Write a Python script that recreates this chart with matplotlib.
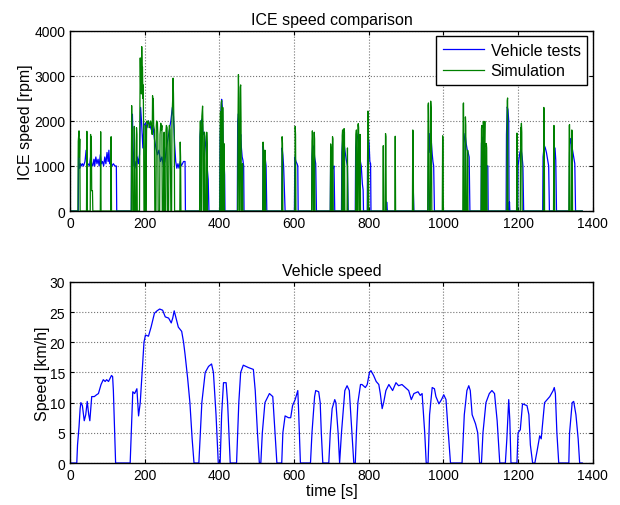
import numpy as np
import matplotlib
matplotlib.use("Agg")
import matplotlib.pyplot as plt

plt.rcParams['font.family'] = ['Liberation Sans', 'DejaVu Sans']

# ICE speed measured on the vehicle [s], [rpm]
t_test = [0, 22, 23, 24, 26, 28, 30, 33, 36, 40, 43, 45, 48, 52, 55, 58, 61, 64, 66, 69,
          72, 75, 78, 81, 84, 87, 90, 93, 96, 99, 102, 104, 106, 109, 112, 116, 120, 124, 125,
          164, 165, 167, 169, 171, 174, 177, 180, 183, 186, 189, 192, 195, 198, 202, 206, 210,
          214, 218, 222, 226, 230, 234, 238, 242, 246, 250, 254, 258, 262, 266, 270, 274, 277,
          280, 283, 286, 289, 292, 295, 298, 301, 304, 308, 309,
          347, 348, 351, 354, 356, 359, 362, 365, 367, 370, 372,
          401, 402, 404, 406, 408, 410, 412, 414, 415,
          448, 449, 451, 453, 455, 457, 459, 461, 463, 465, 466,
          516, 517, 519, 521, 523, 525, 527,
          567, 568, 570, 572, 574, 576,
          601, 602, 605, 608, 610, 611,
          647, 648, 650, 653, 655, 658, 660,
          697, 698, 701, 704, 707, 709,
          727, 728, 731, 734, 737, 740, 743, 745,
          764, 765, 768, 771, 774, 777, 780, 783, 785, 786,
          796, 797, 799, 801, 803, 805, 806,
          847, 848, 850, 918, 919, 921,
          959, 960, 962, 964, 966, 968, 970, 972, 974, 976,
          1054, 1055, 1058, 1061, 1064, 1066, 1069, 1071,
          1101, 1102, 1104, 1107, 1110, 1113, 1116, 1119, 1120,
          1168, 1169, 1171, 1173, 1175, 1176, 1177, 1178,
          1199, 1200, 1202, 1205, 1208, 1211, 1213, 1215,
          1266, 1267, 1270, 1273, 1276, 1279, 1282, 1284,
          1296, 1297, 1299, 1301, 1303,
          1337, 1338, 1340, 1343, 1346, 1349, 1352, 1354, 1372]
n_test = [0, 0, 1500, 1000, 950, 1050, 1000, 1050, 1000, 1100, 1350, 1000, 1050, 1000, 1200, 1050, 1000, 1150, 1000, 1200,
          1050, 1150, 1000, 1250, 1050, 1100, 1000, 1200, 1050, 1300, 1100, 1350, 1050, 1100, 1000, 1050, 1000, 1000, 0,
          0, 1800, 2150, 1400, 1000, 1100, 950, 1200, 1050, 1250, 2300, 1900, 1400, 1900, 1950, 1850, 2000,
          1900, 1800, 1900, 1600, 1400, 1250, 1350, 1100, 1200, 1000, 1100, 1400, 1600, 1800, 2000, 2300, 2100,
          1500, 1100, 950, 1050, 950, 1100, 1000, 1050, 1100, 1100, 0,
          0, 1650, 2000, 2050, 1700, 1750, 1550, 1300, 1000, 700, 0,
          0, 1600, 2200, 2480, 2300, 1500, 1200, 800, 0,
          0, 2000, 2160, 1900, 1500, 1700, 1400, 1200, 1130, 1000, 0,
          0, 1450, 1300, 1270, 1150, 1000, 0,
          0, 1400, 1240, 1000, 500, 0,
          0, 1200, 1100, 1050, 1000, 0,
          0, 1200, 1460, 1400, 1200, 1050, 0,
          0, 1150, 1000, 940, 1000, 0,
          0, 1300, 1700, 1500, 1300, 1130, 1000, 0,
          0, 1400, 1720, 1600, 1350, 1130, 1000, 600, 470, 0,
          0, 1300, 1630, 1500, 1100, 1050, 0,
          0, 200, 0, 0, 600, 0,
          0, 1300, 1720, 1300, 1700, 1500, 1270, 1100, 1000, 0,
          0, 1500, 1720, 1500, 1350, 1310, 1200, 0,
          0, 1500, 1640, 1400, 1200, 1050, 1000, 1000, 0,
          0, 1700, 2310, 2250, 2000, 0, 200, 0,
          0, 1000, 1130, 1300, 1380, 1200, 1000, 0,
          0, 1200, 1460, 1400, 1300, 1150, 1000, 0,
          0, 1100, 1400, 1130, 0,
          0, 1300, 1610, 1500, 1350, 1200, 1050, 0, 0]

# ICE speed from the model [s], [rpm]
t_sim = [0, 21, 22, 24, 25, 26, 27, 44, 45, 46, 54, 55, 56, 57, 58, 60, 61, 81, 82, 83, 109, 110, 111,
         164, 165, 166, 167, 168, 171, 172, 173, 174, 177, 178, 179, 180, 186, 187, 188, 189, 190,
         191, 192, 193, 194, 195, 196, 197, 198, 200, 201, 202, 203, 205, 206, 208, 210, 212, 214,
         216, 218, 220, 221, 222, 223, 224, 226, 227, 230, 231, 232, 234, 235, 236, 240, 241, 243,
         245, 246, 247, 250, 251, 252, 253, 256, 257, 258, 260, 261, 264, 265, 266, 268, 270, 272,
         273, 275, 276, 277, 278, 279, 280, 294, 295, 296, 297,
         347, 348, 349, 350, 351, 352, 353, 355, 356, 357, 359, 360, 361, 362, 365, 366, 367, 368,
         401, 402, 403, 404, 405, 406, 407, 408, 409, 410, 411, 412, 413,
         449, 450, 451, 452, 453, 455, 456, 457, 458, 459, 461, 462, 463,
         516, 517, 518, 519, 521, 522, 523, 524,
         567, 568, 569, 570, 602, 603, 604, 605,
         647, 648, 649, 650, 651, 653, 654, 655, 656,
         697, 698, 699, 700, 702, 703, 704, 705,
         728, 729, 730, 731, 733, 734, 735, 736, 742, 743, 744,
         765, 766, 767, 768, 770, 771, 772, 773, 774, 776, 777, 778,
         797, 798, 799, 800,
         838, 839, 840, 844, 845, 846, 847, 870, 871, 872,
         917, 918, 919, 920,
         958, 959, 960, 961, 962, 965, 966, 967, 968, 969,
         997, 998, 999, 1000,
         1052, 1053, 1054, 1055, 1058, 1059, 1060, 1061, 1064, 1065, 1066,
         1101, 1102, 1103, 1104, 1106, 1107, 1108, 1109, 1110, 1111, 1112, 1114, 1115, 1116, 1117,
         1170, 1171, 1172, 1173,
         1196, 1197, 1198, 1199, 1206, 1207, 1208, 1209, 1210, 1211,
         1268, 1269, 1270, 1271, 1295, 1296, 1297, 1298,
         1336, 1337, 1338, 1339, 1343, 1344, 1345, 1346, 1372]
n_sim = [0, 0, 1550, 1780, 1200, 1600, 0, 0, 1770, 0, 0, 1700, 1000, 1650, 450, 450, 0, 0, 1760, 0, 0, 1650, 0,
         0, 2340, 1600, 1800, 0, 0, 1880, 1500, 0, 0, 1850, 1700, 0, 0, 2200, 3400, 2800, 3300,
         2600, 3650, 3100, 3200, 2500, 2800, 1800, 0, 0, 1400, 1900, 0, 1800, 2000, 1950, 2000, 1850, 1900,
         2000, 1900, 1700, 2560, 2200, 2500, 1900, 1800, 0, 0, 1900, 2000, 1950, 1700, 0, 0, 1700, 1950,
         1800, 1900, 0, 0, 1600, 1750, 0, 0, 1800, 1900, 1850, 0, 0, 1750, 1900, 1800, 0, 0,
         2100, 2500, 2950, 2600, 2000, 1800, 0, 0, 1530, 1200, 0,
         0, 1700, 2000, 1700, 0, 0, 2100, 2330, 1900, 0, 0, 1750, 1650, 0, 0, 1750, 1500, 0,
         0, 1700, 2200, 0, 2400, 2450, 1800, 0, 2300, 1200, 0, 1500, 0,
         0, 2100, 3030, 2500, 0, 0, 2750, 2800, 2000, 0, 0, 1050, 0,
         0, 1530, 1400, 0, 0, 1350, 1300, 0,
         0, 1650, 1500, 0, 0, 1880, 1700, 0,
         0, 1550, 1780, 1600, 0, 0, 1750, 1600, 0,
         0, 1490, 1400, 0, 0, 1650, 1600, 0,
         0, 1670, 1800, 0, 0, 1830, 1750, 0, 0, 1400, 0,
         0, 1700, 1800, 0, 0, 1900, 1940, 1850, 0, 0, 1700, 0,
         0, 2220, 2000, 0,
         0, 1450, 0, 0, 1720, 1650, 0, 0, 1660, 0,
         0, 1800, 1750, 0,
         0, 2350, 2400, 1800, 0, 0, 2440, 2300, 1500, 0,
         0, 1670, 1600, 0,
         0, 2380, 2400, 0, 0, 2090, 1900, 0, 0, 1350, 0,
         0, 1830, 1900, 0, 0, 1990, 1800, 0, 1500, 1990, 0, 0, 1500, 1400, 0,
         0, 2450, 2510, 0,
         0, 1730, 1600, 0, 0, 1850, 1830, 1950, 1750, 0,
         0, 2300, 2200, 0, 0, 1900, 1880, 0,
         0, 1900, 1920, 0, 0, 1800, 1700, 0, 0]

# vehicle speed [s], [km/h]
t_veh = [0, 18, 20, 24, 27, 29, 33, 38, 42, 46, 50, 53, 58, 65, 71, 76, 83, 89, 94, 98, 103, 107, 111,
         114, 116, 122, 161, 164, 168, 173, 179, 183.5, 188, 194, 198, 202, 210, 217, 226, 233, 240,
         248, 255, 264, 271, 275, 279, 284, 290, 299, 304, 308, 315, 321, 327, 332, 345, 349, 353,
         362, 371, 379, 384, 391, 397, 402, 406, 411, 418, 422, 429, 446, 452, 457, 464, 478, 491,
         496, 502, 507, 511, 515, 522, 534, 543, 549, 554, 567, 570, 576, 585, 591, 596, 603, 610,
         612, 617, 644, 648, 655, 658, 666, 670, 673, 677, 693, 697, 702, 709, 712, 718, 722, 727,
         736, 742, 748, 755, 760, 764, 767, 771, 778, 782, 791, 796, 802, 806, 813, 820, 827, 831,
         836, 840, 846, 854, 864, 873, 880, 889, 898, 907, 914, 921, 932, 938, 943, 950, 954, 959,
         963, 970, 976, 980, 988, 995, 1001, 1007, 1012, 1019, 1050, 1056, 1063, 1068, 1072, 1077,
         1086, 1092, 1097, 1102, 1106, 1114, 1123, 1130, 1137, 1144, 1148, 1151, 1166, 1170, 1175,
         1178, 1181, 1197, 1200, 1206, 1212, 1224, 1229, 1233, 1239, 1245, 1251, 1258, 1262, 1271,
         1278, 1285, 1294, 1297, 1300, 1304, 1309, 1336, 1338, 1345, 1349, 1355, 1361, 1365, 1372]
v_veh = [0, 0, 3, 6, 9, 10, 9.5, 7, 8, 10.2, 8, 7, 11, 11, 11.3, 11.5, 13, 13.8, 13.5, 13.8, 13.5, 14, 14.5,
         14.3, 12, 0, 0, 5, 11.8, 11.5, 12.3, 7.8, 10, 16, 20, 21.2, 21, 22.5, 24.8, 25.2, 25.5,
         25.3, 24.2, 24, 23.2, 24, 25.2, 24, 22.5, 21.8, 20, 18, 14, 10, 4, 0, 0, 5, 10,
         15, 16, 16.4, 15, 8, 0, 0, 8, 13.3, 13.3, 10, 0, 0, 10, 15, 16.2, 15.8, 15.5,
         12, 5, 0, 0, 5, 10, 11.5, 11, 5, 0, 0, 5, 7.8, 7.5, 7.5, 9.5, 10.5, 12,
         9, 0, 0, 5, 11, 12, 11.8, 10, 5, 0, 0, 5, 9, 10.5, 10, 5, 0, 5,
         12, 12.8, 12, 5, 0, 0, 5, 10, 13, 13, 12.5, 13, 15, 15.3, 14.5, 13.5, 13, 11.5,
         9, 10, 12, 13, 12, 13.3, 12.8, 13, 12.5, 12, 10.5, 11.5, 11.8, 11.2, 11.5, 5, 0, 0,
         8, 12.5, 12.3, 11, 9.8, 10.5, 11.3, 10.5, 6, 0, 0, 8, 12, 12.8, 12, 8,
         6.5, 5, 0, 0, 5, 10, 11.5, 12, 11.5, 7, 3, 0, 0, 4, 10.5,
         7, 0, 0, 5, 5.5, 9.8, 9.5, 8, 3, 0, 0, 2, 4.5, 4, 10,
         10.5, 11, 12, 12.5, 11.5, 5, 0, 0, 5, 10, 10.2, 8, 4, 0, 0]

fig = plt.figure(figsize=(6.2, 5.06), dpi=100)
ax1 = fig.add_axes([0.113, 0.581, 0.843, 0.356])
ax2 = fig.add_axes([0.113, 0.083, 0.843, 0.358])

ax1.plot(t_test, n_test, color='#0000ff', lw=0.9, label='Vehicle tests')
ax1.plot(t_sim, n_sim, color='#008000', lw=0.9, label='Simulation')
ax1.set_xlim(0, 1400)
ax1.set_ylim(0, 4000)
ax1.set_yticks(np.arange(0, 4001, 1000))
ax1.set_title('ICE speed comparison', fontsize=11.5, pad=5)
ax1.set_ylabel('ICE speed [rpm]', fontsize=11.5, labelpad=1)
ax1.legend(loc='upper right', fontsize=11.5, fancybox=False, edgecolor='black',
           framealpha=1, borderaxespad=0.35, handlelength=2.6, borderpad=0.4,
           labelspacing=0.35, handletextpad=0.4)

ax2.plot(t_veh, v_veh, color='#0000ff', lw=0.9)
ax2.set_xlim(0, 1400)
ax2.set_ylim(0, 30)
ax2.set_yticks(np.arange(0, 31, 5))
ax2.set_title('Vehicle speed', fontsize=11.5, pad=5)
ax2.set_ylabel('Speed [km/h]', fontsize=11.5, labelpad=0)
ax2.set_xlabel('time [s]', fontsize=11.5, labelpad=1)

for ax in (ax1, ax2):
    ax.set_xticks(np.arange(0, 1401, 200))
    ax.grid(True, color='0.45', linestyle=':', linewidth=0.8)
    ax.tick_params(direction='in', top=True, right=True, labelsize=10, length=3)
    for s in ax.spines.values():
        s.set_linewidth(1.0)

fig.savefig('out.png', dpi=100)
